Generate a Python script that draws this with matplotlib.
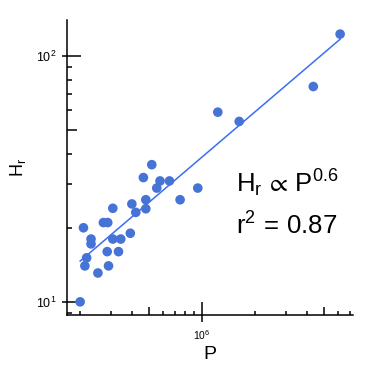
import numpy as np
import matplotlib
matplotlib.use("Agg")
import matplotlib.pyplot as plt
from matplotlib.ticker import LogLocator, NullFormatter

plt.rcParams["font.family"] = ["Liberation Sans", "DejaVu Sans"]
plt.rcParams["mathtext.fontset"] = "custom"
plt.rcParams["mathtext.rm"] = "Liberation Sans"
plt.rcParams["mathtext.it"] = "Liberation Sans:italic"
plt.rcParams["mathtext.default"] = "regular"

# power (P) and relief height (H_r)
P_values = [2.01e5, 2.10e5, 2.14e5, 2.19e5, 2.32e5, 2.32e5, 2.54e5, 2.73e5,
            2.89e5, 2.87e5, 2.92e5, 3.09e5, 3.09e5, 3.33e5, 3.43e5, 3.89e5,
            3.97e5, 4.18e5, 4.77e5, 4.77e5, 4.62e5, 5.16e5, 5.51e5, 5.75e5,
            6.51e5, 7.49e5, 9.45e5, 1.23e6, 1.63e6, 4.32e6, 6.15e6]
H_values = [10.0, 20.0, 14.0, 15.1, 18.0, 17.2, 13.1, 21.0,
            21.0, 16.0, 14.0, 24.0, 18.0, 16.0, 18.0, 19.0,
            25.0, 23.1, 26.0, 23.9, 32.0, 36.1, 29.0, 31.0,
            31.0, 26.0, 29.0, 59.0, 54.1, 75.0, 122.5]

P = np.array(P_values)
H = np.array(H_values)

slope, intercept = np.polyfit(np.log10(P), np.log10(H), 1)
x_fit = np.array([P.min(), P.max()])
y_fit = 10 ** (intercept + slope * np.log10(x_fit))

fig = plt.figure(figsize=(3.74, 3.74), dpi=100)
ax = fig.add_axes([0.179, 0.158, 0.765, 0.789])

ax.plot(x_fit, y_fit, color="#3b6ef5", lw=1.1, zorder=2)
ax.scatter(P, H, s=48, color="#4673d6", edgecolors="none", zorder=3)

ax.set_xscale("log")
ax.set_yscale("log")
ax.set_xlim(1.69e5, 7.29e6)
ax.set_ylim(8.85, 140)

for s in ["top", "right"]:
    ax.spines[s].set_visible(False)
for s in ["left", "bottom"]:
    ax.spines[s].set_linewidth(1.1)

ax.xaxis.set_major_locator(LogLocator(base=10, numticks=10))
ax.yaxis.set_major_locator(LogLocator(base=10, numticks=10))
ax.xaxis.set_minor_locator(LogLocator(base=10, subs=[2, 3, 4, 6, 7, 8, 9], numticks=10))
ax.yaxis.set_minor_locator(LogLocator(base=10, subs=[2, 3, 4, 6, 7, 8, 9], numticks=10))
ax.xaxis.set_minor_formatter(NullFormatter())
ax.yaxis.set_minor_formatter(NullFormatter())

ax.tick_params(axis="y", which="major", direction="in", length=10, width=1.1,
               labelsize=9, pad=7.5)
ax.tick_params(axis="x", which="major", direction="in", length=9.4, width=1.1,
               labelsize=7.5, pad=9.5)
ax.tick_params(axis="y", which="minor", direction="in", length=3.6, width=1.1)
ax.tick_params(axis="x", which="minor", direction="in", length=3, width=1.1)

# outward stubs of the major ticks and the longer ticks at 5 x 10^n
ay = ax.twinx()
ay.set_yscale("log")
ay.set_ylim(ax.get_ylim())
ay.yaxis.tick_left()
ay.yaxis.set_major_locator(LogLocator(base=10, numticks=10))
ay.yaxis.set_minor_locator(LogLocator(base=10, subs=[5], numticks=10))
ay.yaxis.set_major_formatter(NullFormatter())
ay.yaxis.set_minor_formatter(NullFormatter())
ay.tick_params(axis="y", which="major", direction="out", length=3.6, width=1.1)
ay.tick_params(axis="y", which="minor", direction="in", length=7.2, width=1.1)
for s in ay.spines.values():
    s.set_visible(False)

axx = ax.twiny()
axx.set_xscale("log")
axx.set_xlim(ax.get_xlim())
axx.xaxis.tick_bottom()
axx.xaxis.set_major_locator(LogLocator(base=10, numticks=10))
axx.xaxis.set_minor_locator(LogLocator(base=10, subs=[5], numticks=10))
axx.xaxis.set_major_formatter(NullFormatter())
axx.xaxis.set_minor_formatter(NullFormatter())
axx.tick_params(axis="x", which="major", direction="out", length=5, width=1.1)
axx.tick_params(axis="x", which="minor", direction="in", length=5.8, width=1.1)
for s in axx.spines.values():
    s.set_visible(False)

ax.set_xlabel("P", fontsize=14, labelpad=3)
ax.set_ylabel("$H_r$", fontsize=13, labelpad=6)

fig.text(0.767, 1 - 192 / 374, r"$H_r\,\propto\,P^{0.6}$", fontsize=18.5,
         ha="center", va="baseline")
fig.text(0.767, 1 - 235 / 374, r"$r^2\,=\,0.87$", fontsize=18.5,
         ha="center", va="baseline")

fig.savefig("out.png", dpi=100)
